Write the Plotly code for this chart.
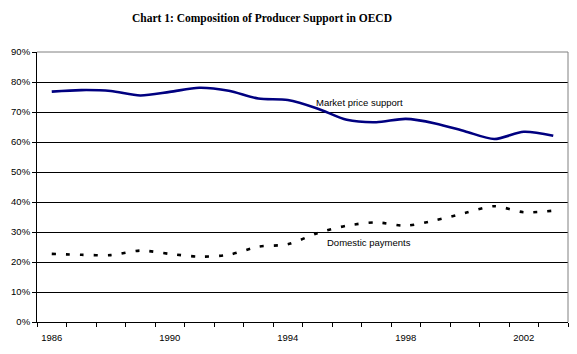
import plotly.graph_objects as go

years = list(range(1986, 2004))
market_price_support = [76.8, 77.3, 77.0, 75.5, 76.7, 78.1, 77.1, 74.5, 74.0, 71.2,
                        67.4, 66.6, 67.7, 66.2, 63.6, 61.0, 63.4, 62.1]
domestic_payments = [22.7, 22.4, 22.3, 23.8, 22.7, 21.8, 22.4, 25.1, 25.9, 29.6,
                     32.1, 33.2, 32.1, 33.9, 36.3, 38.6, 36.6, 37.1]
tick_years = [1986, 1990, 1994, 1998, 2002]
y_ticks = [0, 10, 20, 30, 40, 50, 60, 70, 80, 90]

xs = list(range(len(years)))
fig = go.Figure()
fig.add_trace(go.Scatter(
    x=xs, y=[v / 100 for v in market_price_support], mode="lines",
    line=dict(color="#000080", width=2.6, shape="spline", smoothing=0.8),
    showlegend=False, hoverinfo="skip"))
fig.add_trace(go.Scatter(
    x=xs, y=[v / 100 for v in domestic_payments], mode="lines",
    line=dict(color="#000000", width=2.6, shape="spline", smoothing=0.8, dash="4px,10px"),
    showlegend=False, hoverinfo="skip"))

fig.add_annotation(x=years.index(1995) - 0.1, y=0.733, xref="x", yref="y",
                   text="Market price support", showarrow=False, xanchor="left",
                   font=dict(family="Liberation Sans, Arial", size=9.5, color="black"))
fig.add_annotation(x=years.index(1995) + 0.27, y=0.265, xref="x", yref="y",
                   text="Domestic payments", showarrow=False, xanchor="left",
                   font=dict(family="Liberation Sans, Arial", size=9.5, color="black"))

fig.update_layout(
    width=577, height=354,
    margin=dict(l=37, r=9, t=52, b=32),
    paper_bgcolor="white", plot_bgcolor="white",
    title=dict(text="<b>Chart 1: Composition of Producer Support in OECD</b>",
               x=262 / 577, xanchor="center", y=1 - 18 / 354, yanchor="middle",
               font=dict(family="Liberation Serif, Times New Roman", size=11.5, color="black")),
    font=dict(family="Liberation Sans, Arial", size=9.5, color="black"),
)
fig.update_xaxes(
    range=[-0.5, len(years) - 0.5],
    tickmode="array", tickvals=[years.index(y) for y in tick_years],
    ticktext=[str(y) for y in tick_years],
    ticks="", showgrid=False, zeroline=False, ticklabelstandoff=7,
    showline=True, linecolor="black", linewidth=1,
    minor=dict(tickmode="linear", tick0=-0.5, dtick=1, ticks="outside",
               ticklen=4, tickcolor="black", tickwidth=1, showgrid=False),
    fixedrange=True,
)
fig.update_yaxes(
    range=[0, 0.9], tickmode="array", tickvals=[v / 100 for v in y_ticks],
    ticktext=[f"{v}%" for v in y_ticks],
    ticks="outside", ticklen=4, tickcolor="black",
    showgrid=True, gridcolor="black", gridwidth=1, zeroline=False,
    showline=True, linecolor="black", linewidth=1,
    fixedrange=True,
)
fig.add_shape(type="line", xref="paper", yref="paper", x0=0, x1=1, y0=1, y1=1,
              line=dict(color="#808080", width=1), layer="above")
fig.add_shape(type="line", xref="paper", yref="paper", x0=1, x1=1, y0=0, y1=1,
              line=dict(color="#808080", width=1), layer="above")

fig.write_html("out.html")
